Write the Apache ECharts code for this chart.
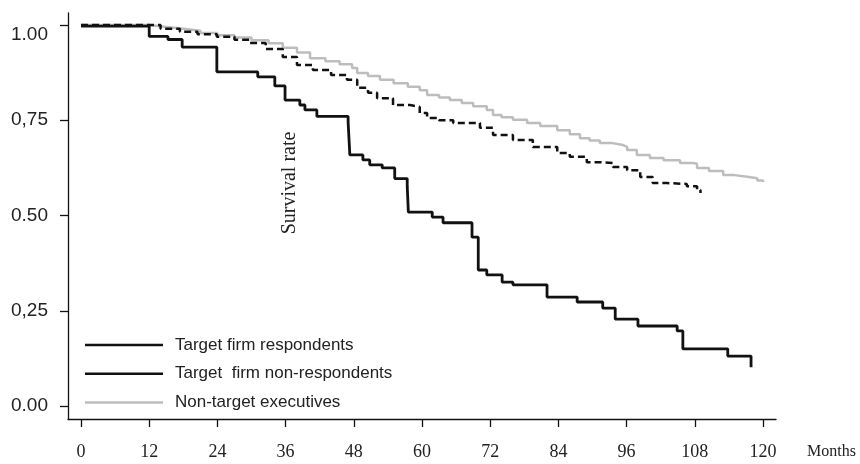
<!DOCTYPE html>
<html lang="en">
<head>
  <title>Survival rate</title>
  <meta charset="utf-8" />
  <script src="https://cdn.jsdelivr.net/npm/echarts@6.0.0/dist/echarts.min.js"></script>
  <style>
    body {
      margin: 0;
      background-color: #ffffff;
    }
    #main {
      width: 860px;
      height: 464px;
    }
  </style>
</head>
<body>
<div id="main"></div>
<script type="text/javascript">
  // months, survival
  let respondents = [
    [0, 1.0], [11.8, 1.0], [14, 0.99], [17.4, 0.982], [20.5, 0.976], [23.9, 0.969], [27, 0.961],
    [29.7, 0.953], [32.5, 0.937], [35.5, 0.916], [38, 0.895], [40.8, 0.882], [44, 0.869],
    [46.8, 0.856], [48.6, 0.835], [50.5, 0.822], [52.1, 0.808], [54.9, 0.79], [57.9, 0.785],
    [59.6, 0.769], [60.9, 0.756], [63, 0.75], [65.5, 0.743], [70.2, 0.73], [72.5, 0.711],
    [76, 0.698], [79.5, 0.68], [83.8, 0.664], [86, 0.654], [89, 0.64], [91.3, 0.638],
    [93.6, 0.627], [96.1, 0.619], [98.4, 0.601], [100.6, 0.585], [103.1, 0.583], [106.6, 0.577],
    [108.4, 0.567], [109, 0.559]
  ]
  let nonRespondents = [
    [0, 0.997], [12, 0.97], [15.3, 0.962], [17.8, 0.942], [23.9, 0.877], [31.1, 0.864],
    [34.1, 0.84], [35.9, 0.803], [38.5, 0.79], [39.4, 0.777], [41.5, 0.76], [47.0, 0.745],
    [47.3, 0.659], [49.6, 0.646], [50.8, 0.633], [53.0, 0.625], [55.2, 0.597], [57.4, 0.577],
    [57.6, 0.509], [61.8, 0.496], [63.7, 0.481], [68.8, 0.443], [69.9, 0.357], [71.4, 0.344],
    [74.1, 0.325], [76.0, 0.318], [82.0, 0.286], [87.3, 0.273], [91.8, 0.257], [94.0, 0.228],
    [98.0, 0.21], [104.9, 0.197], [105.9, 0.15], [113.8, 0.131], [117.9, 0.102]
  ]
  let nonTarget = [
    [0, 1.0], [12, 0.995], [15, 0.99], [18, 0.985], [21, 0.979], [24, 0.973], [27, 0.967],
    [30, 0.96], [33, 0.952], [35.5, 0.94], [38, 0.928], [40.3, 0.913], [43, 0.905], [45.5, 0.897],
    [47.7, 0.887], [48.6, 0.874], [50.5, 0.866], [52.6, 0.856], [55, 0.847], [57.5, 0.838],
    [59.6, 0.829], [60.9, 0.816], [63, 0.81], [64.9, 0.803], [67, 0.795], [69, 0.787],
    [71.4, 0.777], [72.5, 0.764], [74, 0.758], [76, 0.751], [78.5, 0.743], [80.8, 0.735],
    [83.8, 0.724], [86, 0.713], [87.8, 0.703], [89.5, 0.697], [91.3, 0.69], [93.5, 0.685],
    [95.4, 0.68], [96.1, 0.672], [97.8, 0.659], [100.1, 0.651], [102.5, 0.645], [105.4, 0.638],
    [107.7, 0.636], [108.4, 0.625], [110.5, 0.617], [113, 0.606], [115, 0.602], [117.2, 0.598],
    [119, 0.592], [120, 0.588]
  ]
  let seriesNames = ['Target firm respondents', 'Target  firm non-respondents', 'Non-target executives']
  let xTicks = [0, 12, 24, 36, 48, 60, 72, 84, 96, 108, 120]
  let yTicks = [0, 0.25, 0.5, 0.75, 1]
  let yTickLabels = ['0.00', '0,25', '0.50', '0,75', '1.00']

  let black = '#111111'
  let grey = '#bdbdbd'
  let sansFont = 'Liberation Sans'
  let serifFont = 'Liberation Serif'

  let chart = echarts.init(document.getElementById('main'))

  let option = {
    animation: false,
    grid: {
      left: 68,
      top: 13,
      width: 708,
      height: 406,
    },
    legend: {
      orient: 'vertical',
      left: 85,
      top: 335,
      padding: 0,
      icon: 'rect',
      itemWidth: 78,
      itemHeight: 2.5,
      itemGap: 8.8,
      textStyle: {
        fontFamily: sansFont,
        fontSize: 17,
        color: '#222',
        lineHeight: 20,
        padding: [0, 0, 0, 7],
      },
      data: [
        {name: seriesNames[0], itemStyle: {color: black}},
        {name: seriesNames[1], itemStyle: {color: black}},
        {name: seriesNames[2], itemStyle: {color: grey}},
      ],
    },
    xAxis: {
      type: 'value',
      min: -2.29,
      max: 122.29,
      name: 'Months',
      nameLocation: 'end',
      nameGap: 31,
      nameTextStyle: {
        fontFamily: serifFont,
        fontSize: 16,
        color: '#222',
        verticalAlign: 'top',
        padding: [25, 0, 0, 0],
      },
      axisLine: {show: true, onZero: false, lineStyle: {color: black, width: 1.3}},
      axisTick: {show: true, customValues: xTicks, length: 8, lineStyle: {color: black, width: 1.3}},
      axisLabel: {
        customValues: xTicks,
        margin: 24,
        fontFamily: serifFont,
        fontSize: 18,
        color: '#222',
      },
      splitLine: {show: false},
    },
    yAxis: {
      type: 'value',
      min: -0.0341,
      max: 1.0315,
      axisLine: {show: true, onZero: false, lineStyle: {color: black, width: 1.3}},
      axisTick: {show: true, customValues: yTicks, length: 8, lineStyle: {color: black, width: 1.3}},
      axisLabel: {
        customValues: yTicks,
        margin: 20,
        fontFamily: sansFont,
        fontSize: 19,
        color: '#222',
        formatter: function (value) {
          let idx = yTicks.indexOf(value)
          let txt = idx >= 0 ? yTickLabels[idx] : ''
          // the top label sits a bit lower than its tick
          return value === 1 ? '{t|' + txt + '}' : txt
        },
        rich: {
          t: {
            fontFamily: sansFont,
            fontSize: 19,
            color: '#222',
            padding: [20, 0, 0, 0],
          },
        },
      },
      splitLine: {show: false},
    },
    graphic: [
      {
        type: 'text',
        x: 290,
        y: 183,
        rotation: Math.PI / 2,
        style: {
          text: 'Survival rate',
          fontFamily: serifFont,
          fontSize: 20,
          fill: '#222',
          align: 'center',
          verticalAlign: 'middle',
        },
      },
    ],
    series: [
      {
        name: seriesNames[2],
        type: 'line',
        step: 'end',
        symbol: 'none',
        z: 1,
        data: nonTarget,
        lineStyle: {color: grey, width: 2.5},
        itemStyle: {color: grey},
      },
      {
        name: seriesNames[0],
        type: 'line',
        step: 'end',
        symbol: 'none',
        z: 2,
        data: respondents,
        lineStyle: {color: black, width: 2.5, type: [7, 4]},
        itemStyle: {color: black},
      },
      {
        name: seriesNames[1],
        type: 'line',
        step: 'end',
        symbol: 'none',
        z: 3,
        data: nonRespondents,
        lineStyle: {color: black, width: 2.8},
        itemStyle: {color: black},
      },
    ],
  }

  chart.setOption(option)
</script>
</body>
</html>
